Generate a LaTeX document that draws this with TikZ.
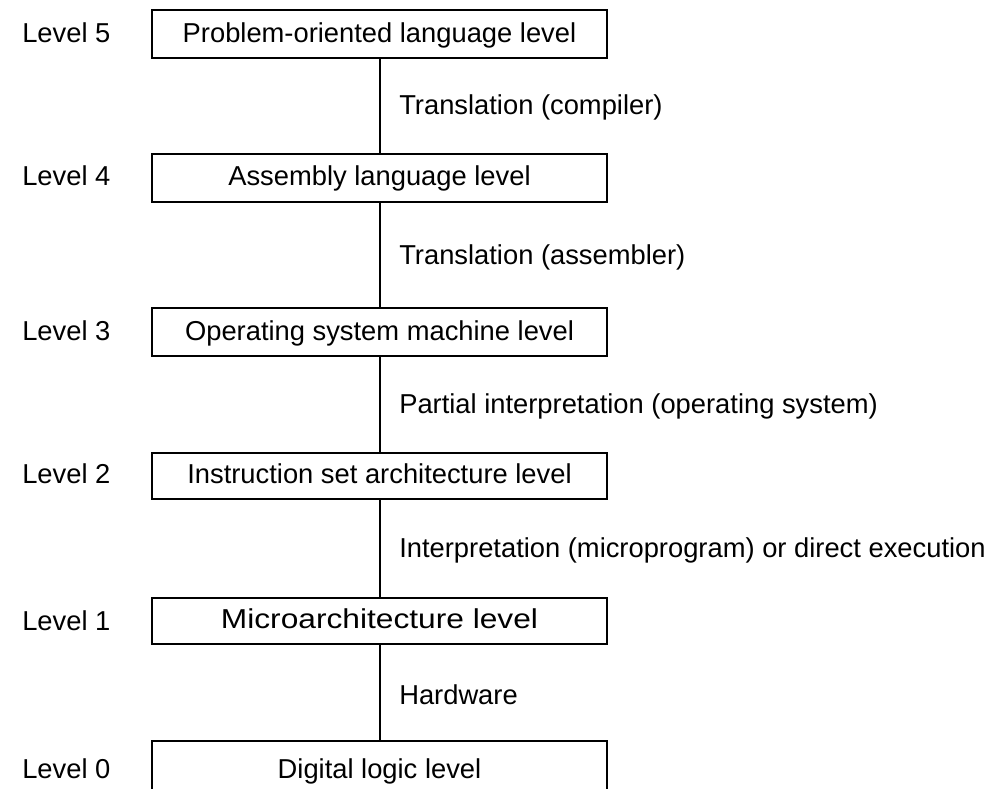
\documentclass[tikz,border=0pt]{standalone}
\usepackage{fontspec}
\setmainfont{Liberation Sans}
\begin{document}
\begin{tikzpicture}[x=0.75pt,y=-0.75pt,
  txt/.style={inner sep=0pt,text height=14.8pt,text depth=2.5pt,font=\fontsize{20.5}{24}\selectfont},
  levelbox/.style={txt,draw=black,line width=1.5pt,minimum width=341.25pt,minimum height=36pt},
  levellabel/.style={txt,anchor=west},
  steplabel/.style={txt,anchor=west},
  link/.style={line width=1.5pt}]
\useasboundingbox (0,0) rectangle (997,789);
\clip (0,0) rectangle (997,789);
\node[levelbox] (b5) at (379.5,34) {Problem-oriented language level};
\node[levelbox] (b4) at (379.5,177.5) {Assembly language level};
\node[levelbox] (b3) at (379.5,332) {Operating system machine level};
\node[levelbox,minimum height=34.5pt] (b2) at (379.5,475.5) {Instruction set architecture level};
\node[levelbox,minimum height=34.5pt] (b1) at (379.5,620.5) {\scalebox{1.16}[1]{Microarchitecture level}};
\node[levelbox,minimum height=44pt] (b0) at (379.5,770.5) {Digital logic level};
\node[levellabel] (l5) at (22,34) {Level 5};
\node[levellabel] (l4) at (22,177.5) {Level 4};
\node[levellabel] (l3) at (22,332) {Level 3};
\node[levellabel] (l2) at (22,475.5) {Level 2};
\node[levellabel] (l1) at (22,622) {Level 1};
\node[levellabel] (l0) at (22,770.5) {Level 0};
\draw[link] (b5.south) -- (b4.north);
\draw[link] (b4.south) -- (b3.north);
\draw[link] (b3.south) -- (b2.north);
\draw[link] (b2.south) -- (b1.north);
\draw[link] (b1.south) -- (b0.north);
\node[steplabel] (t54) at (399,106) {Translation (compiler)};
\node[steplabel] (t43) at (399,256) {Translation (assembler)};
\node[steplabel] (t32) at (399,405) {Partial interpretation (operating system)};
\node[steplabel] (t21) at (399,549) {Interpretation (microprogram) or direct execution};
\node[steplabel] (t10) at (399,696) {Hardware};
\end{tikzpicture}
\end{document}
